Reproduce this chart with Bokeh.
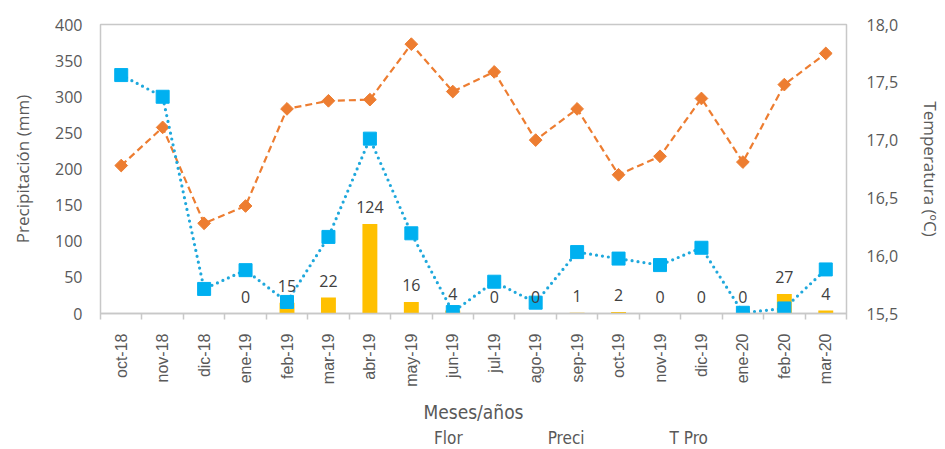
from bokeh.plotting import figure
from bokeh.models import (ColumnDataSource, Range1d, LinearAxis, FixedTicker,
                          CustomJSTickFormatter, Legend, LegendItem, LabelSet)
from bokeh.core.properties import value
from bokeh.layouts import column
from bokeh.embed import file_html
from bokeh.resources import INLINE
import math

months = ["oct-18", "nov-18", "dic-18", "ene-19", "feb-19", "mar-19", "abr-19",
          "may-19", "jun-19", "jul-19", "ago-19", "sep-19", "oct-19", "nov-19",
          "dic-19", "ene-20", "feb-20", "mar-20"]
flor = [None, None, None, 0, 15, 22, 124, 16, 4, 0, 0, 1, 2, 0, 0, 0, 27, 4]
preci = [330, 300, 34, 60, 16, 106, 242, 111, 2, 44, 15, 85, 76, 67, 91, 1, 7, 61]
tpro = [16.78, 17.11, 16.28, 16.43, 17.27, 17.34, 17.35, 17.83, 17.42, 17.59,
        17.00, 17.27, 16.70, 16.86, 17.36, 16.81, 17.48, 17.75]
left_ticks = [0, 50, 100, 150, 200, 250, 300, 350, 400]
right_ticks = [15.5, 16.0, 16.5, 17.0, 17.5, 18.0]
series_names = ["Flor", "Preci", "T Pro"]

xs = list(range(len(months)))
fx = [x for x, f in zip(xs, flor) if f is not None]
fv = [f for f in flor if f is not None]
bar_src = ColumnDataSource(dict(x=fx, top=fv, lab=[str(v) for v in fv]))
pre_src = ColumnDataSource(dict(x=xs, y=preci))
tem_src = ColumnDataSource(dict(x=xs, y=tpro))

GREY = "#595959"
NARROW = "'Liberation Sans Narrow', 'DejaVu Sans Condensed', Roboto"
C_FLOR, C_PRE, C_PRE_LINE, C_TEM = "#FFC000", "#00B0F0", "#1FA8DC", "#ED7D31"

p = figure(width=945, height=425, output_backend="svg", toolbar_location=None,
           x_range=Range1d(-0.5, len(months) - 0.5), y_range=Range1d(0, 400),
           min_border_left=100, min_border_right=97, min_border_top=24,
           min_border_bottom=110, background_fill_color="white",
           border_fill_color="white")
p.extra_y_ranges = {"temp": Range1d(15.5, 18.0)}
p.xgrid.visible = False
p.ygrid.visible = False
p.outline_line_color = "#C8C8C8"
p.outline_line_width = 1.5

# x axis
xa = p.xaxis[0]
xa.ticker = FixedTicker(ticks=xs, minor_ticks=[x - 0.5 for x in xs] + [len(months) - 0.5])
xa.major_label_overrides = {i: m for i, m in enumerate(months)}
xa.major_label_orientation = math.pi / 2
xa.major_tick_out = 0
xa.major_tick_in = 0
xa.minor_tick_out = 6
xa.minor_tick_in = 0
xa.minor_tick_line_color = "#C8C8C8"
xa.minor_tick_line_width = 1.5
xa.axis_line_color = "#C8C8C8"
xa.axis_line_width = 1.5
xa.major_label_standoff = 14
xa.major_label_text_font = "Liberation Sans"
xa.major_label_text_font_size = "16px"
xa.major_label_text_color = GREY
xa.axis_label = "Meses/años"
xa.axis_label_text_font = NARROW
xa.axis_label_text_font_style = "normal"
xa.axis_label_text_font_size = "19px"
xa.axis_label_text_color = GREY
xa.axis_label_standoff = 11

# left axis
ya = p.yaxis[0]
ya.ticker = FixedTicker(ticks=left_ticks)
ya.major_tick_out = 0
ya.major_tick_in = 0
ya.minor_tick_out = 0
ya.minor_tick_in = 0
ya.axis_line_color = None
ya.major_label_standoff = 18
ya.major_label_text_font = "Open Sans"
ya.major_label_text_font_size = "16px"
ya.major_label_text_color = GREY
ya.axis_label = "Precipitación (mm)"
ya.axis_label_text_font = "Open Sans"
ya.axis_label_text_font_style = "normal"
ya.axis_label_text_font_size = "17px"
ya.axis_label_text_color = GREY
ya.axis_label_standoff = 18

# right axis
ra = LinearAxis(y_range_name="temp")
ra.ticker = FixedTicker(ticks=right_ticks)
ra.formatter = CustomJSTickFormatter(code="return tick.toFixed(1).replace('.', ',');")
ra.major_tick_out = 0
ra.major_tick_in = 0
ra.minor_tick_out = 0
ra.minor_tick_in = 0
ra.axis_line_color = None
ra.major_label_standoff = 20
ra.major_label_text_font = "Open Sans"
ra.major_label_text_font_size = "16px"
ra.major_label_text_color = GREY
ra.axis_label = "Temperatura (ºC)"
ra.axis_label_text_font = "Open Sans"
ra.axis_label_text_font_style = "normal"
ra.axis_label_text_font_size = "17px"
ra.axis_label_text_color = GREY
ra.axis_label_standoff = 18
p.add_layout(ra, "right")

# bars
p.vbar(x="x", top="top", bottom=0, width=0.36, source=bar_src,
       fill_color=C_FLOR, line_color=None)

# T Pro
p.line("x", "y", source=tem_src, y_range_name="temp", line_color=C_TEM,
       line_width=2.2, line_dash="7 4")
p.scatter("x", "y", source=tem_src, y_range_name="temp", marker="square",
          angle=math.pi / 4, size=9, fill_color=C_TEM, line_color=C_TEM)

# Preci
p.line("x", "y", source=pre_src, line_color=C_PRE_LINE, line_width=3.2,
       line_dash="0 6", line_cap="round")
p.scatter("x", "y", source=pre_src, marker="square", size=13,
          fill_color=C_PRE, line_color=C_PRE)

labels = LabelSet(x="x", y="top", text="lab", source=bar_src, y_offset=11,
                  text_align="center", text_baseline="bottom",
                  text_font=value("Open Sans"), text_font_size=value("16px"),
                  text_color="#404040")
p.add_layout(labels)

# legend strip (separate small figure, same series styles)
lf = figure(width=945, height=24, output_backend="svg", toolbar_location=None,
            x_range=Range1d(0, 1), y_range=Range1d(0, 1),
            x_axis_location=None, y_axis_location=None,
            min_border_left=0, min_border_right=0, min_border_top=0,
            min_border_bottom=0, background_fill_color="white",
            border_fill_color="white")
lf.outline_line_color = None
lf.xgrid.visible = False
lf.ygrid.visible = False
empty = dict(x=[], y=[])
lb = lf.vbar(x=[], top=[], width=0.1, fill_color=C_FLOR, line_color=None)
lpl = lf.line(x=[], y=[], line_color=C_PRE_LINE, line_width=3, line_dash="0 6",
              line_cap="round")
lps = lf.scatter(x=[], y=[], marker="square", size=13, fill_color=C_PRE, line_color=C_PRE)
ltl = lf.line(x=[], y=[], line_color=C_TEM, line_width=2, line_dash="7 4")
lts = lf.scatter(x=[], y=[], marker="square", angle=math.pi / 4, size=9,
                 fill_color=C_TEM, line_color=C_TEM)

legend = Legend(items=[LegendItem(label=series_names[0], renderers=[lb]),
                       LegendItem(label=series_names[1], renderers=[lpl, lps]),
                       LegendItem(label=series_names[2], renderers=[ltl, lts])],
                orientation="horizontal", location=(266, 1),
                glyph_width=60, glyph_height=12, label_standoff=8, spacing=17,
                padding=0, margin=0, border_line_color=None,
                background_fill_alpha=0,
                label_text_font=NARROW, label_text_font_size="17px",
                label_text_color=GREY, label_height=14)
lf.add_layout(legend, "center")

layout = column(p, lf, spacing=0)
open("out.html", "w").write(file_html(layout, INLINE))
